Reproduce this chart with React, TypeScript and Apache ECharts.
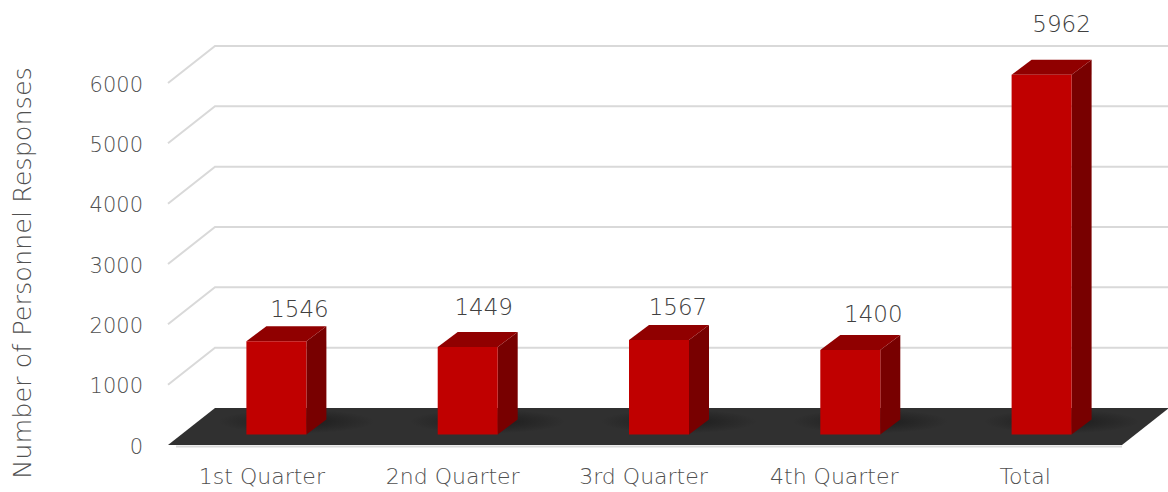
import React, { useEffect, useRef } from "react";
import * as echarts from "echarts";

const categories = ["1st Quarter", "2nd Quarter", "3rd Quarter", "4th Quarter", "Total"];
const responses = [1546, 1449, 1567, 1400, 5962];
const yTicks = [0, 1000, 2000, 3000, 4000, 5000, 6000];
const axisTitle = "Number of Personnel Responses";

// layout of the fake 3D box (pixels)
const depthX = 47;
const depthY = 37;
const barInsetX = 13;
const barStepExtra = 0.5;
const barInsetY = 10.5;
const barWidth = 60;
const barDepthX = 20;
const barDepthY = 15;
const labelLift = [17, 25, 18, 21, 36];
const labelShift = [23, 16, 19, 23, 20];

const FONT = "'DejaVu Sans'";
const WEIGHT = 200;
const TEXT = "#505050";
const GRID = "#D9D9D9";

export default function App() {
  const ref = useRef<HTMLDivElement>(null);
  useEffect(() => {
    document.body.style.margin = "0";
    const chart = echarts.init(ref.current!, undefined, { renderer: "svg" });
    chart.setOption({
      animation: false,
      backgroundColor: "#fff",
      grid: { left: 168, right: 46, top: 83, bottom: 47, outerBoundsMode: "none" },
      xAxis: {
        type: "category",
        data: categories,
        axisLine: { show: false },
        axisTick: { show: false },
        axisLabel: {
          color: TEXT,
          fontFamily: FONT,
          fontWeight: WEIGHT,
          fontSize: 22,
          margin: 20,
          padding: [0, 3, 0, 0],
        },
      },
      yAxis: {
        type: "value",
        min: 0,
        max: 6000,
        interval: 1000,
        axisLine: { show: false },
        axisTick: { show: false },
        splitLine: { show: false },
        axisLabel: {
          color: TEXT,
          fontFamily: FONT,
          fontWeight: WEIGHT,
          fontSize: 21,
          margin: 25,
          formatter: (v: number) => String(v),
          verticalAlign: "top",
          padding: [-9, 0, 0, 0],
        },
        name: axisTitle,
        nameLocation: "middle",
        nameGap: 133,
        nameTextStyle: {
          color: TEXT,
          fontFamily: FONT,
          fontWeight: WEIGHT,
          fontSize: 25.5,
          padding: [0, 18, 0, 0],
        },
      },
      series: [
        {
          type: "custom",
          clip: false,
          silent: true,
          z: 1,
          data: yTicks.map((v) => [0, v]),
          encode: { x: 0, y: 1 },
          renderItem: (params: any, api: any) => {
            const v = api.value(1);
            const y = api.coord([0, v])[1];
            const cs = params.coordSys;
            const left = cs.x;
            const right = cs.x + cs.width;
            if (v === 0) {
              return {
                type: "group",
                children: [
                  {
                    type: "polyline",
                    shape: { points: [[left + 8, y + 1.5], [right, y + 1.5]] },
                    style: { stroke: GRID, lineWidth: 2, fill: "none" },
                  },
                  {
                    type: "polygon",
                    shape: {
                      points: [
                        [left, y],
                        [right, y],
                        [right + depthX, y - depthY],
                        [left + depthX, y - depthY],
                      ],
                    },
                    style: { fill: "#303030" },
                  },
                ],
              };
            }
            return {
              type: "polyline",
              shape: {
                points: [
                  [left, y],
                  [left + depthX, y - depthY],
                  [right + depthX, y - depthY],
                ],
              },
              style: { stroke: GRID, lineWidth: 2, fill: "none" },
            };
          },
        },
        {
          type: "custom",
          clip: false,
          silent: true,
          z: 2,
          data: responses.map((v, i) => [i, v]),
          encode: { x: 0, y: 1 },
          renderItem: (params: any, api: any) => {
            const i = api.value(0);
            const v = api.value(1);
            const [cx, top0] = api.coord([i, v]);
            const base0 = api.coord([i, 0])[1];
            const x0 = cx + barInsetX + barStepExtra * i - barWidth / 2;
            const x1 = x0 + barWidth;
            const top = top0 - barInsetY;
            const base = base0 - barInsetY;
            return {
              type: "group",
              children: [
                {
                  type: "ellipse",
                  shape: { cx: x0 + barWidth / 2 + barDepthX, cy: base - 13, rx: 78, ry: 12 },
                  style: {
                    fill: new echarts.graphic.RadialGradient(0.5, 0.5, 0.5, [
                      { offset: 0, color: "rgba(20,20,20,0.75)" },
                      { offset: 1, color: "rgba(20,20,20,0)" },
                    ]),
                  },
                },
                {
                  type: "polygon",
                  shape: { points: [[x1, top], [x1 + barDepthX, top - barDepthY], [x1 + barDepthX, base - barDepthY], [x1, base]] },
                  style: { fill: "#780000" },
                },
                {
                  type: "polygon",
                  shape: { points: [[x0, top], [x0 + barDepthX, top - barDepthY], [x1 + barDepthX, top - barDepthY], [x1, top]] },
                  style: { fill: "#900000" },
                },
                {
                  type: "rect",
                  shape: { x: x0, y: top, width: barWidth, height: base - top },
                  style: { fill: "#C00000" },
                },
                {
                  type: "text",
                  style: {
                    text: String(v),
                    x: x0 + barWidth / 2 + labelShift[i],
                    y: top - barDepthY - labelLift[i],
                    align: "center",
                    verticalAlign: "middle",
                    fill: "#404040",
                    font: `${WEIGHT} 23px ${FONT}`,
                  },
                },
              ],
            };
          },
        },
      ],
    });
    return () => chart.dispose();
  }, []);
  return <div ref={ref} style={{ width: 1168, height: 492 }} />;
}
